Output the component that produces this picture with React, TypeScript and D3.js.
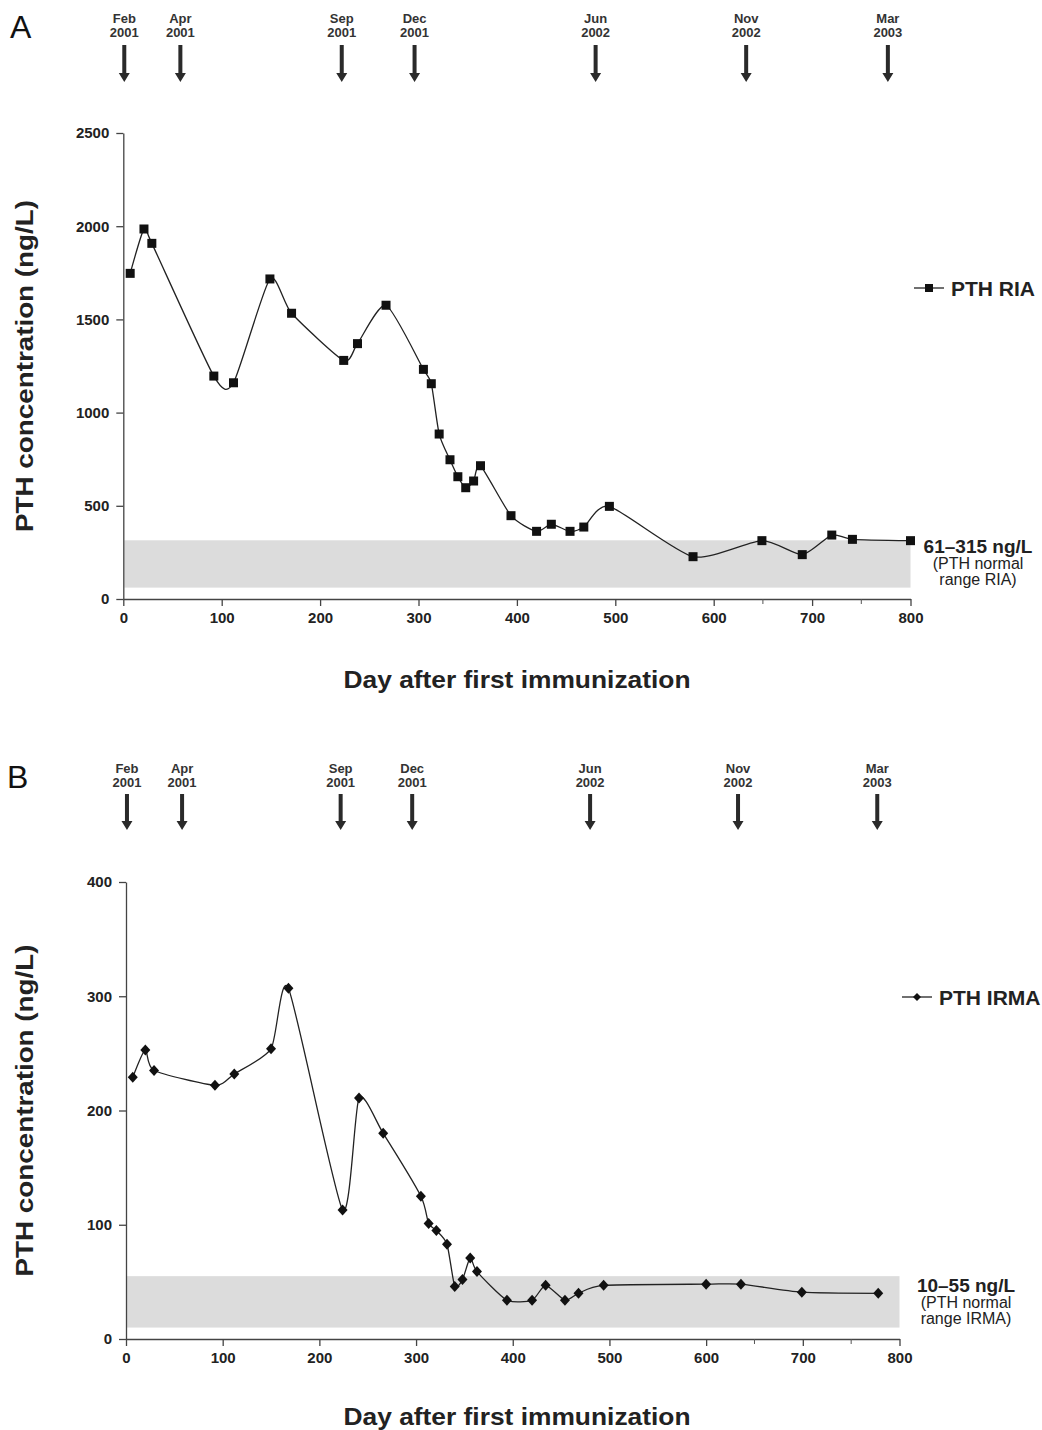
import React, { useEffect, useRef } from 'react';
import * as d3 from 'd3';

// immunization time points (day after first immunization)
const immunDays = [1, 58, 222, 296, 480, 633, 777];
const immunMonths = ['Feb', 'Apr', 'Sep', 'Dec', 'Jun', 'Nov', 'Mar'];
const immunYears = ['2001', '2001', '2001', '2001', '2002', '2002', '2003'];

// panel A - PTH RIA
const riaDays = [7, 21, 29, 92, 112, 149, 171, 224, 238, 267, 305, 313, 321, 332, 340, 348, 356, 363, 394, 420, 435, 454, 468, 494, 579, 649, 690, 720, 741, 800];
const riaValues = [1747, 1985, 1908, 1196, 1160, 1717, 1533, 1280, 1370, 1576, 1232, 1155, 885, 747, 656, 597, 633, 715, 447, 363, 401, 363, 386, 497, 227, 313, 238, 343, 320, 313];
const riaRange = [61, 315];
const riaTicks = [0, 500, 1000, 1500, 2000, 2500];

// panel B - PTH IRMA
const irmaDays = [7, 20, 29, 92, 112, 150, 168, 224, 241, 266, 305, 313, 321, 332, 340, 348, 356, 363, 394, 420, 434, 454, 468, 494, 600, 636, 699, 778];
const irmaValues = [229, 253, 235, 222, 232, 254, 307, 113, 211, 180, 125, 101, 95, 83, 46, 52, 71, 59, 34, 34, 47, 34, 40, 47, 48, 48, 41, 40];
const irmaRange = [10, 55];
const irmaTicks = [0, 100, 200, 300, 400];

const xTicks = [0, 100, 200, 300, 400, 500, 600, 700, 800];
const xMinorTicks = [650, 750];

const FONT = "'Liberation Sans', Arial, Helvetica, sans-serif";
const INK = '#222';

const App = () => {
  const ref = useRef(null);

  useEffect(() => {
    if (!ref.current) return;
    const svg = d3.select(ref.current);
    svg.selectAll('*').remove();

    const drawPanel = (p: any) => {
      const x = d3.scaleLinear().domain([0, 800]).range([p.x0, p.x1]);
      const y = d3.scaleLinear().domain([0, p.yMax]).range([p.y0, p.y1]);
      const g = svg.append('g');

      // panel letter
      g.append('text')
        .attr('x', p.letterX)
        .attr('y', p.letterY)
        .style('font-family', FONT)
        .style('font-size', '32px')
        .attr('fill', '#111')
        .text(p.letter);

      // immunization arrows
      immunDays.forEach((d, i) => {
        const ax = x(d);
        g.append('text')
          .attr('x', ax)
          .attr('y', p.arrowLabelY)
          .attr('text-anchor', 'middle')
          .style('font-family', FONT)
          .style('font-size', '13px')
          .style('font-weight', 'bold')
          .attr('fill', '#333')
          .text(immunMonths[i]);
        g.append('text')
          .attr('x', ax)
          .attr('y', p.arrowLabelY + 14)
          .attr('text-anchor', 'middle')
          .style('font-family', FONT)
          .style('font-size', '13px')
          .style('font-weight', 'bold')
          .attr('fill', '#333')
          .text(immunYears[i]);
        const top = p.arrowTop;
        const tip = p.arrowTip;
        const hb = tip - 9;
        g.append('path')
          .attr('d', `M${ax - 2},${top} L${ax + 2},${top} L${ax + 2},${hb} L${ax + 5.5},${hb} L${ax},${tip} L${ax - 5.5},${hb} L${ax - 2},${hb} Z`)
          .attr('fill', '#2a2a2a');
      });

      // normal range band
      g.append('rect')
        .attr('x', x(0) + 1)
        .attr('y', y(p.range[1]))
        .attr('width', x(800) - x(0) - 1)
        .attr('height', y(p.range[0]) - y(p.range[1]))
        .attr('fill', '#dcdcdc');

      // axes
      const xAxis = d3.axisBottom(x).tickValues(xTicks).tickFormat(d3.format('d')).tickSize(7).tickSizeOuter(0).tickPadding(6);
      const xg = g.append('g').attr('transform', `translate(0, ${p.y0})`).call(xAxis);
      xg.select('.domain').attr('stroke', '#444').attr('stroke-width', 1.3);
      xg.selectAll('line').attr('stroke', '#444').attr('stroke-width', 1.3);
      xg.selectAll('text')
        .style('font-family', FONT)
        .style('font-size', '15px')
        .style('font-weight', 'bold')
        .attr('fill', INK);
      g.selectAll('.minor')
        .data(xMinorTicks)
        .join('line')
        .attr('x1', (d) => x(d))
        .attr('x2', (d) => x(d))
        .attr('y1', p.y0)
        .attr('y2', p.y0 + 5)
        .attr('stroke', '#555')
        .attr('stroke-width', 1);

      const yAxis = d3.axisLeft(y).tickValues(p.yTicks).tickFormat(d3.format('d')).tickSize(7).tickSizeOuter(0).tickPadding(7);
      const yg = g.append('g').attr('transform', `translate(${p.x0}, 0)`).call(yAxis);
      yg.select('.domain').attr('stroke', '#444').attr('stroke-width', 1.3);
      yg.selectAll('line').attr('stroke', '#444').attr('stroke-width', 1.3);
      yg.selectAll('text')
        .style('font-family', FONT)
        .style('font-size', '15px')
        .style('font-weight', 'bold')
        .attr('fill', INK);

      // axis titles
      g.append('text')
        .attr('transform', `translate(33, ${(p.y0 + p.y1) / 2}) rotate(-90)`)
        .attr('text-anchor', 'middle')
        .attr('textLength', 332)
        .attr('lengthAdjust', 'spacingAndGlyphs')
        .style('font-family', FONT)
        .style('font-size', '24px')
        .style('font-weight', 'bold')
        .attr('fill', INK)
        .text('PTH concentration (ng/L)');
      g.append('text')
        .attr('x', 517)
        .attr('y', p.xTitleY)
        .attr('text-anchor', 'middle')
        .attr('textLength', 347)
        .attr('lengthAdjust', 'spacingAndGlyphs')
        .style('font-family', FONT)
        .style('font-size', '24px')
        .style('font-weight', 'bold')
        .attr('fill', INK)
        .text('Day after first immunization');

      // data line (smoothed like the original spreadsheet chart)
      const pts = p.days.map((d: number, i: number) => [x(d), y(p.values[i])]);
      const line = d3.line().curve(d3.curveCardinal.tension(0.35));
      g.append('path')
        .attr('d', line(pts))
        .attr('fill', 'none')
        .attr('stroke', INK)
        .attr('stroke-width', 1.3);

      const marker = (sel: any, cx: number, cy: number) => {
        if (p.shape === 'square') {
          sel.append('rect')
            .attr('x', cx - 4.5)
            .attr('y', cy - 4.5)
            .attr('width', 9)
            .attr('height', 9)
            .attr('fill', '#111');
        } else {
          sel.append('path')
            .attr('d', `M${cx},${cy - 5.5} L${cx + 5},${cy} L${cx},${cy + 5.5} L${cx - 5},${cy} Z`)
            .attr('fill', '#111');
        }
      };
      pts.forEach((pt: number[]) => marker(g, pt[0], pt[1]));

      // legend
      g.append('line')
        .attr('x1', p.legendX)
        .attr('x2', p.legendX + 30)
        .attr('y1', p.legendY)
        .attr('y2', p.legendY)
        .attr('stroke', INK)
        .attr('stroke-width', 1.3);
      if (p.shape === 'square') {
        g.append('rect')
          .attr('x', p.legendX + 11)
          .attr('y', p.legendY - 4)
          .attr('width', 8)
          .attr('height', 8)
          .attr('fill', '#111');
      } else {
        g.append('path')
          .attr('d', `M${p.legendX + 15},${p.legendY - 4} L${p.legendX + 19},${p.legendY} L${p.legendX + 15},${p.legendY + 4} L${p.legendX + 11},${p.legendY} Z`)
          .attr('fill', '#111');
      }
      g.append('text')
        .attr('x', p.legendX + 37)
        .attr('y', p.legendY + 7.5)
        .style('font-family', FONT)
        .style('font-size', '21px')
        .style('font-weight', 'bold')
        .attr('fill', INK)
        .text(p.name);

      // range label
      const rl = g.append('text')
        .attr('text-anchor', 'middle')
        .style('font-family', FONT)
        .attr('fill', INK);
      rl.append('tspan')
        .attr('x', p.rangeX)
        .attr('y', p.rangeY)
        .style('font-size', '19px')
        .style('font-weight', 'bold')
        .text(`${p.range[0]}\u2013${p.range[1]} ng/L`);
      rl.append('tspan')
        .attr('x', p.rangeX)
        .attr('y', p.rangeY + 16)
        .style('font-size', '16px')
        .text('(PTH normal');
      rl.append('tspan')
        .attr('x', p.rangeX)
        .attr('y', p.rangeY + 32)
        .style('font-size', '16px')
        .text(`range ${p.name.replace('PTH ', '')})`);
    };

    drawPanel({
      letter: 'A', letterX: 10, letterY: 38,
      x0: 123.3, x1: 910.5, y0: 599, y1: 133, yMax: 2500, yTicks: riaTicks,
      arrowLabelY: 23, arrowTop: 45, arrowTip: 82,
      xTitleY: 688,
      days: riaDays, values: riaValues, range: riaRange, shape: 'square',
      name: 'PTH RIA', legendX: 914, legendY: 288,
      rangeX: 978, rangeY: 553,
    });

    drawPanel({
      letter: 'B', letterX: 7, letterY: 788,
      x0: 126, x1: 899.5, y0: 1339, y1: 882, yMax: 400, yTicks: irmaTicks,
      arrowLabelY: 773, arrowTop: 794, arrowTip: 830,
      xTitleY: 1425,
      days: irmaDays, values: irmaValues, range: irmaRange, shape: 'diamond',
      name: 'PTH IRMA', legendX: 902, legendY: 997,
      rangeX: 966, rangeY: 1292,
    });
  }, []);

  return (
    <svg
      ref={ref}
      width={1042}
      height={1430}
      style={{ position: 'absolute', left: 0, top: 0, background: '#fff' }}
    />
  );
};

export default App;
